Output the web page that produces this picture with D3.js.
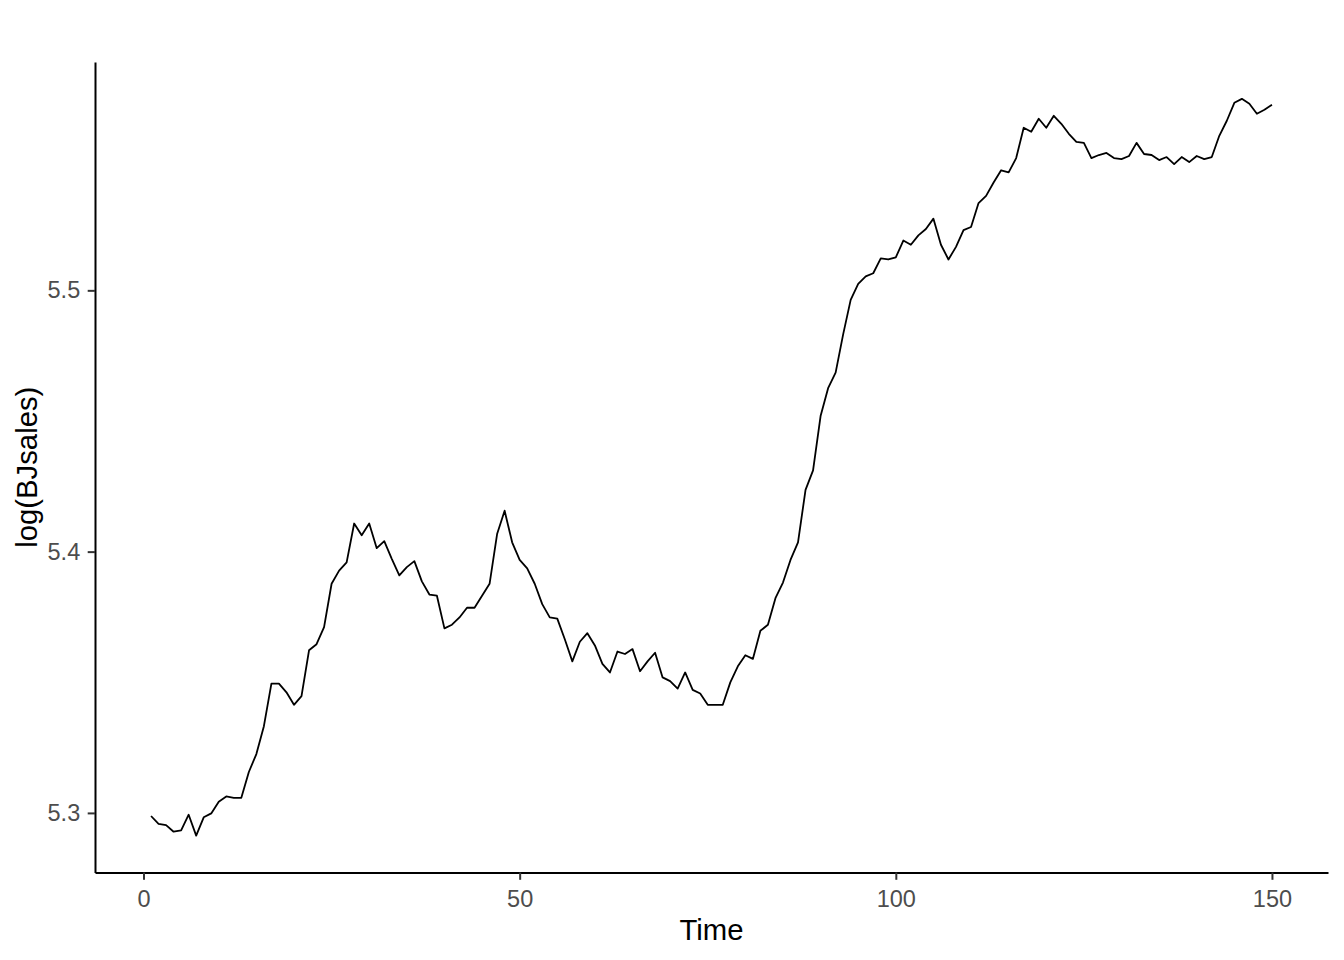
<!DOCTYPE html>
<html>
<head>
<meta charset="utf-8">
<script src="https://cdn.jsdelivr.net/npm/d3@7"></script>
<style>
html,body{margin:0;padding:0;background:#fff;}
svg{display:block;}
</style>
</head>
<body>
<svg id="chart" width="1344" height="960"></svg>
<script>
// BJsales series (raw sales); the chart plots log(BJsales)
const sales = [
200.1,199.5,199.4,198.9,199.0,200.2,198.6,200.0,200.3,201.2,
201.6,201.5,201.5,203.5,204.9,207.1,210.5,210.5,209.8,208.8,
209.5,213.2,213.7,215.1,218.7,219.8,220.5,223.8,222.8,223.8,
221.7,222.3,220.8,219.4,220.1,220.6,218.9,217.8,217.7,215.0,
215.3,215.9,216.7,216.7,217.7,218.7,222.9,224.9,222.2,220.7,
220.0,218.7,217.0,215.9,215.8,214.1,212.3,213.9,214.6,213.6,
212.1,211.4,213.1,212.9,213.3,211.5,212.3,213.0,211.0,210.7,
210.1,211.4,210.0,209.7,208.8,208.8,208.8,210.6,211.9,212.8,
212.5,214.8,215.3,217.5,218.8,220.7,222.2,226.7,228.4,233.2,
235.7,237.1,240.6,243.8,245.3,246.0,246.3,247.7,247.6,247.8,
249.4,249.0,249.9,250.5,251.5,249.0,247.6,248.8,250.4,250.7,
253.0,253.7,255.0,256.2,256.0,257.4,260.4,260.0,261.3,260.4,
261.6,260.8,259.8,259.0,258.9,257.4,257.7,257.9,257.4,257.3,
257.6,258.9,257.8,257.7,257.2,257.5,256.8,257.5,257.0,257.6,
257.3,257.5,259.6,261.1,262.9,263.3,262.8,261.8,262.2,262.7
];
const xTicks = [0, 50, 100, 150];
const yTicks = [5.3, 5.4, 5.5];
const xLabel = "Time";
const yLabel = "log(BJsales)";

(function () {
const data = sales.map((v, i) => ({t: i + 1, y: Math.log(v)}));

const svg = d3.select("#chart");
const pL = 95, pR = 1328, pT = 62, pB = 872.5;

const xExt = d3.extent(data, d => d.t);
const yExt = d3.extent(data, d => d.y);
const xPad = (xExt[1] - xExt[0]) * 0.05;
const yPad = (yExt[1] - yExt[0]) * 0.05;

const x = d3.scaleLinear().domain([xExt[0] - xPad, xExt[1] + xPad]).range([pL, pR]);
const y = d3.scaleLinear().domain([yExt[0] - yPad, yExt[1] + yPad]).range([pB, pT]);

const font = "'Liberation Sans', Arial, sans-serif";

const xAxis = svg.append("g")
  .attr("transform", `translate(0,${pB})`)
  .call(d3.axisBottom(x).tickValues(xTicks).tickFormat(d3.format("d")).tickSize(7.3).tickPadding(10.2).tickSizeOuter(0));
const yAxis = svg.append("g")
  .attr("transform", `translate(${pL},0)`)
  .call(d3.axisLeft(y).tickValues(yTicks).tickFormat(d3.format(".1f")).tickSize(7.3).tickPadding(7.5).tickSizeOuter(0));

[xAxis, yAxis].forEach(g => {
  g.attr("font-size", null).attr("font-family", null);
  g.select(".domain").attr("stroke", "#000").attr("stroke-width", 2);
  g.selectAll(".tick line").attr("stroke", "#333").attr("stroke-width", 2);
  g.selectAll(".tick text").attr("fill", "#4d4d4d").style("font-family", font).style("font-size", "23.5px");
});

const line = d3.line().x(d => x(d.t)).y(d => y(d.y));
svg.append("path")
  .datum(data)
  .attr("fill", "none")
  .attr("stroke", "#000")
  .attr("stroke-width", 1.8)
  .attr("stroke-linejoin", "round")
  .attr("d", line);

svg.append("text")
  .attr("x", (pL + pR) / 2)
  .attr("y", 940)
  .attr("text-anchor", "middle")
  .style("font-family", font)
  .style("font-size", "29.3px")
  .attr("fill", "#000")
  .text(xLabel);

svg.append("text")
  .attr("transform", `translate(37,${(pT + pB) / 2}) rotate(-90)`)
  .attr("text-anchor", "middle")
  .style("font-family", font)
  .style("font-size", "29.3px")
  .attr("fill", "#000")
  .text(yLabel);
})();
</script>
</body>
</html>
